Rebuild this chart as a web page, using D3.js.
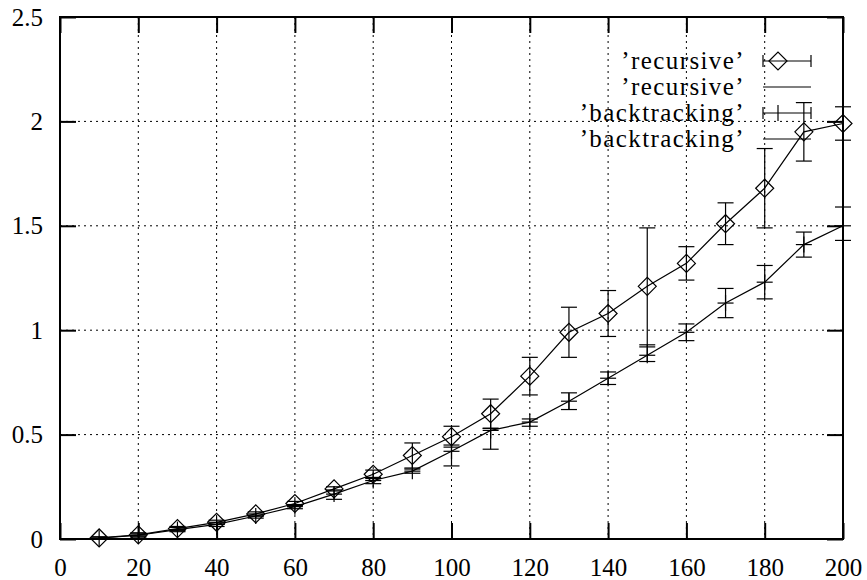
<!DOCTYPE html>
<html>
<head>
<meta charset="utf-8">
<title>recursive vs backtracking</title>
<style>
  body { margin: 0; background: #fff; }
  text { font-family: "Liberation Serif", "DejaVu Serif", serif; font-size: 25px; fill: #000; }
</style>
</head>
<body>
<div id="chart"></div>
<script src="https://cdn.jsdelivr.net/npm/d3@7"></script>
<script>
var xs = [10, 20, 30, 40, 50, 60, 70, 80, 90, 100, 110, 120, 130, 140, 150, 160, 170, 180, 190, 200];

var recY  = [0.005, 0.02, 0.05, 0.08, 0.12, 0.17, 0.24, 0.31, 0.40, 0.49, 0.60, 0.78, 0.99, 1.08, 1.21, 1.32, 1.51, 1.68, 1.95, 1.99];
var recLo = [0.0, 0.01, 0.04, 0.07, 0.11, 0.16, 0.23, 0.29, 0.34, 0.44, 0.53, 0.69, 0.87, 0.97, 0.92, 1.24, 1.41, 1.49, 1.81, 1.91];
var recHi = [0.01, 0.03, 0.06, 0.09, 0.13, 0.18, 0.25, 0.33, 0.46, 0.54, 0.67, 0.87, 1.11, 1.19, 1.49, 1.40, 1.61, 1.87, 2.09, 2.07];

var btY  = [0.004, 0.018, 0.045, 0.07, 0.11, 0.155, 0.215, 0.28, 0.325, 0.42, 0.52, 0.56, 0.66, 0.77, 0.88, 0.99, 1.13, 1.23, 1.41, 1.50];
var btLo = [0.0, 0.01, 0.035, 0.06, 0.10, 0.145, 0.19, 0.265, 0.315, 0.35, 0.43, 0.54, 0.62, 0.74, 0.85, 0.95, 1.06, 1.15, 1.35, 1.43];
var btHi = [0.01, 0.025, 0.055, 0.08, 0.12, 0.165, 0.235, 0.295, 0.335, 0.45, 0.53, 0.575, 0.70, 0.80, 0.93, 1.03, 1.20, 1.31, 1.47, 1.59];

var xTicks = [0, 20, 40, 60, 80, 100, 120, 140, 160, 180, 200];
var yTicks = [0, 0.5, 1, 1.5, 2, 2.5];
var legendLabels = ["\u2019recursive\u2019", "\u2019recursive\u2019", "\u2019backtracking\u2019", "\u2019backtracking\u2019"];

var width = 867, height = 580;
var pLeft = 60, pRight = 843, pTop = 17, pBottom = 539;
var tickLen = 16, cap = 8, dia = 9;
var fontFam = '"Liberation Serif", "DejaVu Serif", serif';

var x = d3.scaleLinear().domain([0, 200]).range([pLeft, pRight]);
var y = d3.scaleLinear().domain([0, 2.5]).range([pBottom, pTop]);

var svg = d3.select('#chart').append('svg')
  .attr('width', width).attr('height', height);

// grid
svg.append('g').selectAll('line').data(xTicks.slice(1, -1)).enter().append('line')
  .attr('x1', function(d) { return x(d); }).attr('x2', function(d) { return x(d); })
  .attr('y1', pTop).attr('y2', pBottom)
  .attr('stroke', '#000').attr('stroke-width', 1).attr('stroke-dasharray', '2,4');
svg.append('g').selectAll('line').data(yTicks.slice(1, -1)).enter().append('line')
  .attr('y1', function(d) { return y(d); }).attr('y2', function(d) { return y(d); })
  .attr('x1', pLeft).attr('x2', pRight)
  .attr('stroke', '#000').attr('stroke-width', 1).attr('stroke-dasharray', '2,4');

// axes with inner ticks, mirrored
var xAxis = d3.axisBottom(x).tickValues(xTicks).tickSizeInner(-tickLen).tickSizeOuter(0).tickPadding(19).tickFormat(d3.format('d'));
var yAxis = d3.axisLeft(y).tickValues(yTicks).tickSizeInner(-tickLen).tickSizeOuter(0).tickPadding(17).tickFormat(function(d) { return d; });

var gx = svg.append('g').attr('transform', 'translate(0,' + pBottom + ')').call(xAxis);
var gy = svg.append('g').attr('transform', 'translate(' + pLeft + ',0)').call(yAxis);
var gx2 = svg.append('g').attr('transform', 'translate(0,' + pTop + ')').call(d3.axisTop(x).tickValues(xTicks).tickSizeInner(-tickLen).tickSizeOuter(0).tickFormat(''));
var gy2 = svg.append('g').attr('transform', 'translate(' + pRight + ',0)').call(d3.axisRight(y).tickValues(yTicks).tickSizeInner(-tickLen).tickSizeOuter(0).tickFormat(''));
[gx, gy, gx2, gy2].forEach(function(g) {
  g.select('.domain').remove();
  g.selectAll('.tick line').attr('stroke', '#000').attr('stroke-width', 2);
  g.selectAll('text').style('font-family', fontFam).style('font-size', '25px').attr('fill', '#000');
});

svg.append('rect').attr('x', pLeft).attr('y', pTop)
  .attr('width', pRight - pLeft).attr('height', pBottom - pTop)
  .attr('fill', 'none').attr('stroke', '#000').attr('stroke-width', 2);

function errBars(g, lo, hi) {
  xs.forEach(function(v, i) {
    var px = x(v);
    g.append('line').attr('x1', px).attr('x2', px).attr('y1', y(lo[i])).attr('y2', y(hi[i]));
    g.append('line').attr('x1', px - cap).attr('x2', px + cap).attr('y1', y(lo[i])).attr('y2', y(lo[i]));
    g.append('line').attr('x1', px - cap).attr('x2', px + cap).attr('y1', y(hi[i])).attr('y2', y(hi[i]));
  });
}

function diamond(px, py) {
  return 'M' + (px - dia) + ',' + py + 'L' + px + ',' + (py - dia) + 'L' + (px + dia) + ',' + py + 'L' + px + ',' + (py + dia) + 'Z';
}

var line = d3.line().x(function(d) { return x(d[0]); }).y(function(d) { return y(d[1]); });

// recursive
var gr = svg.append('g').attr('stroke', '#000').attr('stroke-width', 1.2).attr('fill', 'none');
errBars(gr, recLo, recHi);
gr.append('path').attr('d', line(xs.map(function(v, i) { return [v, recY[i]]; })));
xs.forEach(function(v, i) {
  gr.append('path').attr('d', diamond(x(v), y(recY[i])));
});

// backtracking
var gb = svg.append('g').attr('stroke', '#000').attr('stroke-width', 1.2).attr('fill', 'none');
errBars(gb, btLo, btHi);
gb.append('path').attr('d', line(xs.map(function(v, i) { return [v, btY[i]]; })));
xs.forEach(function(v, i) {
  var px = x(v), py = y(btY[i]);
  gb.append('line').attr('x1', px - cap).attr('x2', px + cap).attr('y1', py).attr('y2', py);
  gb.append('line').attr('x1', px).attr('x2', px).attr('y1', py - cap).attr('y2', py + cap);
});

// legend
var lgX = 745, lgY = 61, lgStep = 26, s0 = 763, s1 = 811, sm = 778;
var lg = svg.append('g');
legendLabels.forEach(function(t, i) {
  var ly = lgY + i * lgStep;
  lg.append('text').attr('x', lgX).attr('y', ly).attr('dy', '0.32em')
    .attr('text-anchor', 'end').style('letter-spacing', '1.4px').text(t);
  var gs = lg.append('g').attr('stroke', '#000').attr('stroke-width', 1.2).attr('fill', 'none');
  gs.append('line').attr('x1', s0).attr('x2', s1).attr('y1', ly).attr('y2', ly);
  if (i % 2 === 0) {
    gs.append('line').attr('x1', s0).attr('x2', s0).attr('y1', ly - 6).attr('y2', ly + 6);
    gs.append('line').attr('x1', s1).attr('x2', s1).attr('y1', ly - 6).attr('y2', ly + 6);
    if (i === 0) gs.append('path').attr('d', diamond(sm, ly));
    else gs.append('line').attr('x1', sm).attr('x2', sm).attr('y1', ly - cap).attr('y2', ly + cap);
  }
});
</script>
</body>
</html>
